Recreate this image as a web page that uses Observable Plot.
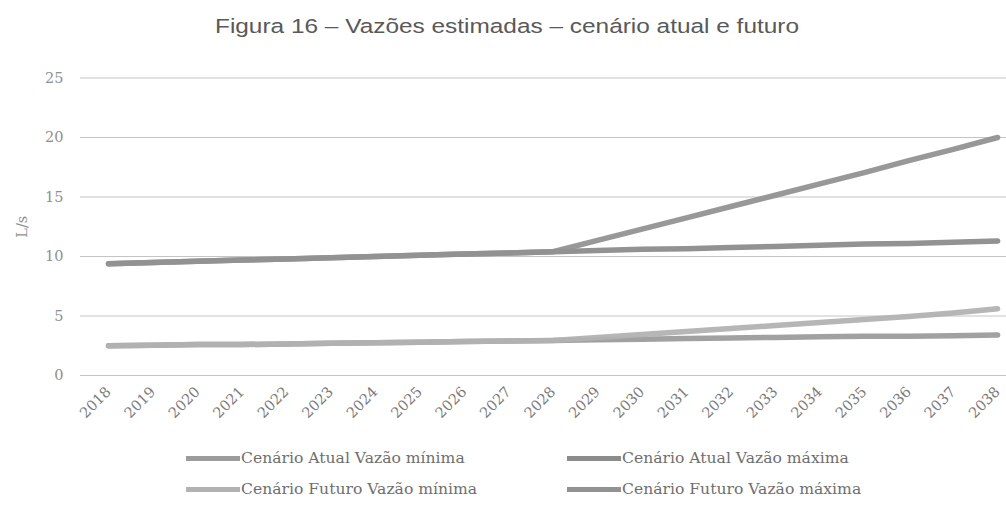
<!DOCTYPE html>
<html>
<head>
<meta charset="utf-8">
<script src="https://cdn.jsdelivr.net/npm/d3@7"></script>
<script src="https://cdn.jsdelivr.net/npm/@observablehq/plot@0.6"></script>
<style>
  html, body { margin: 0; padding: 0; background: #fff; }
  #wrap { position: relative; width: 1006px; height: 526px; overflow: hidden; }
  #title { position: absolute; left: 207px; top: 14px; width: 600px; text-align: center;
           font-family: "Liberation Sans", Arial, sans-serif; font-size: 20.5px; color: #595959;
           transform: scaleX(1.19); transform-origin: center; white-space: nowrap; }
  #chart { position: absolute; left: 0; top: 50px; }
  .leg { position: absolute; font-family: "DejaVu Serif", serif; font-size: 15.6px; color: #6e6e6e;
         display: flex; align-items: center; white-space: nowrap; height: 24px; }
  .sw { display: inline-block; width: 54px; height: 5px; margin-right: 1px; }
</style>
</head>
<body>
<div id="wrap">
  <div id="title">Figura 16 – Vazões estimadas – cenário atual e futuro</div>
  <div id="chart"></div>
  <div id="legend"></div>
</div>
<script>
const years = [2018,2019,2020,2021,2022,2023,2024,2025,2026,2027,2028,2029,2030,2031,2032,2033,2034,2035,2036,2037,2038];
const atualMin   = [2.5,2.55,2.6,2.6,2.65,2.7,2.75,2.8,2.85,2.9,2.95,3.0,3.05,3.1,3.15,3.2,3.25,3.3,3.3,3.35,3.4];
const futuroMin  = [2.5,2.55,2.6,2.6,2.65,2.7,2.75,2.8,2.85,2.9,2.95,3.2,3.45,3.7,3.95,4.2,4.45,4.7,4.95,5.25,5.6];
const atualMax   = [9.4,9.5,9.6,9.7,9.8,9.9,10.0,10.1,10.2,10.3,10.4,10.5,10.6,10.65,10.75,10.85,10.95,11.05,11.1,11.2,11.3];
const futuroMax  = [9.4,9.5,9.6,9.7,9.8,9.9,10.0,10.1,10.2,10.3,10.4,11.35,12.3,13.25,14.2,15.15,16.1,17.05,18.05,19.0,20.0];
const seriesNames = ["Cenário Atual Vazão mínima","Cenário Atual Vazão máxima","Cenário Futuro Vazão  mínima","Cenário Futuro Vazão máxima"];
const seriesValues = [atualMin, atualMax, futuroMin, futuroMax];
const seriesColors = ["#9c9c9c","#8c8c8c","#b2b2b2","#929292"];
const yTicks = [0,5,10,15,20,25];

const rows = [];
seriesNames.forEach((name, i) => {
  years.forEach((yr, j) => rows.push({series: name, year: yr, value: seriesValues[i][j]}));
});

const plot = Plot.plot({
  width: 1006,
  height: 390,
  marginLeft: 80,
  marginRight: 0,
  marginTop: 27.5,
  marginBottom: 65,
  style: { fontFamily: "DejaVu Serif, serif", fontSize: "14px", color: "#888", background: "transparent", overflow: "visible" },
  x: { type: "linear", domain: [2017.37, 2038.2] },
  y: { domain: [0, 25] },
  color: { domain: seriesNames, range: seriesColors },
  marks: [
    Plot.gridY(yTicks, { stroke: "#c4c4c4", strokeOpacity: 1, strokeWidth: 1 }),
    Plot.axisY({ ticks: yTicks, tickSize: 0, tickPadding: 17, label: "L/s", labelAnchor: "center",
                 labelArrow: "none", labelOffset: 64, fill: "#8f8f8f", fontSize: 14.5 }),
    Plot.axisX({ ticks: years, tickFormat: d => String(d), tickSize: 0, tickPadding: 14,
                 tickRotate: -45, label: null, fill: "#7a7a7a", fontSize: 14.5 }),
    Plot.lineY(rows, { x: "year", y: "value", z: "series", stroke: "series", strokeWidth: 5.5,
                       strokeOpacity: 0.95, curve: "linear" })
  ]
});
document.getElementById("chart").appendChild(plot);

const legPos = [
  {left: 186, top: 446}, {left: 567, top: 446},
  {left: 186, top: 477}, {left: 567, top: 477}
];
const legend = document.getElementById("legend");
[0, 1, 2, 3].forEach((i, k) => {
  const d = document.createElement("div");
  d.className = "leg";
  d.style.left = legPos[k].left + "px";
  d.style.top = legPos[k].top + "px";
  const s = document.createElement("span");
  s.className = "sw";
  s.style.background = seriesColors[i];
  d.appendChild(s);
  const t = document.createElement("span");
  t.textContent = seriesNames[i];
  d.appendChild(t);
  legend.appendChild(d);
});
</script>
</body>
</html>
